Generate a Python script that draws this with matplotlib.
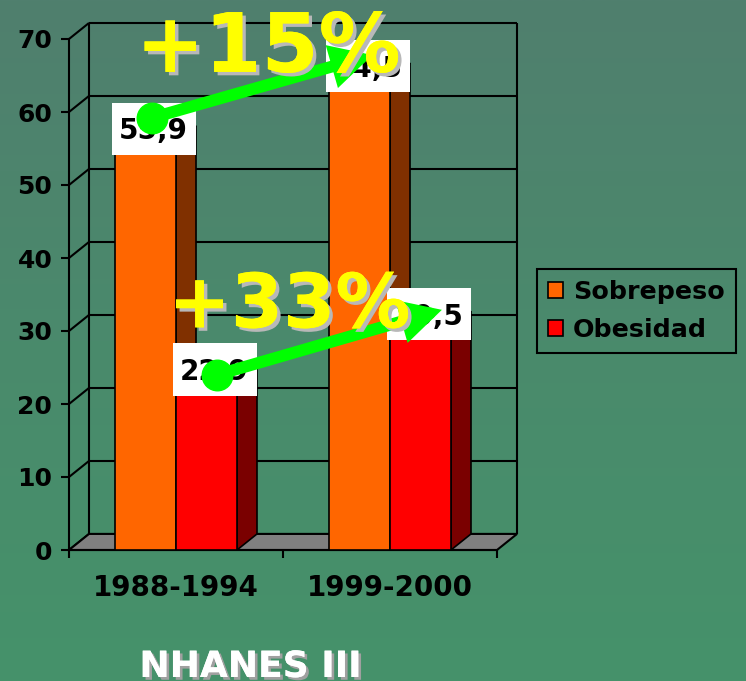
import matplotlib
matplotlib.use("Agg")
import matplotlib.pyplot as plt
import matplotlib.patheffects as pe
from matplotlib.colors import LinearSegmentedColormap
from matplotlib.patches import Rectangle, Polygon, Patch
import numpy as np

# data
periods = ["1988-1994", "1999-2000"]
series = ["Sobrepeso", "Obesidad"]
sobrepeso = [55.9, 64.5]
obesidad = [22.9, 30.5]
changes = ["+15%", "+33%"]
y_ticks = [0, 10, 20, 30, 40, 50, 60, 70]
source = "NHANES III"

# styles
front_colors = ["#ff6600", "#ff0000"]
side_colors = ["#803000", "#7a0000"]
top_colors = ["#ff9a55", "#ff6a6a"]
green = "#00ff00"
yellow = "#ffff00"
W, H = 746, 681
dx, dy = 0.0935, 2.2      # depth offset (x in category units, y in value units)
bw = 0.285                # bar width

plt.rcParams["font.family"] = ["DejaVu Sans"]
plt.rcParams["font.weight"] = "bold"

fig = plt.figure(figsize=(W / 100, H / 100), dpi=100)
bg = fig.add_axes([0, 0, 1, 1], zorder=-10)
cmap = LinearSegmentedColormap.from_list("bg", ["#45926a", "#4a8a6c", "#507f6e"])
bg.imshow(np.linspace(0, 1, 256).reshape(-1, 1), aspect="auto", cmap=cmap,
          origin="lower", extent=[0, 1, 0, 1])
bg.axis("off")

ax = fig.add_axes([69 / W, (H - 550) / H, 428 / W, 511 / H])
ax.patch.set_alpha(0)
ax.set_xlim(-0.5, 1.5)
ax.set_ylim(0, 70)
for s in ["top", "right"]:
    ax.spines[s].set_visible(False)
for s in ["left", "bottom"]:
    ax.spines[s].set_linewidth(1.5)
    ax.spines[s].set_zorder(3)

line = dict(color="black", lw=1.5, clip_on=False, zorder=1, solid_capstyle="butt")
x0, x1 = -0.5, 1.5
for v in y_ticks:
    ax.plot([x0 + dx, x1 + dx], [v + dy, v + dy], **line)
    ax.plot([x0, x0 + dx], [v, v + dy], **line)
ax.plot([x0 + dx, x0 + dx], [dy, y_ticks[-1] + dy], **line)
ax.plot([x1 + dx, x1 + dx], [dy, y_ticks[-1] + dy], **line)

ax.add_patch(Polygon([(x0, 0), (x1, 0), (x1 + dx, dy), (x0 + dx, dy)], closed=True,
                     fc="#808080", ec="black", lw=1.5, zorder=2, clip_on=False))

values = [sobrepeso, obesidad]
for i in range(len(periods)):
    for j, vals in enumerate(values):
        v = vals[i]
        left = i - bw + j * bw
        z = 3 + j
        ax.add_patch(Rectangle((left, 0), bw, v, fc=front_colors[j], ec="black", lw=1.2,
                               zorder=z + 0.2, clip_on=False))
        ax.add_patch(Polygon([(left + bw, 0), (left + bw + dx, dy), (left + bw + dx, v + dy),
                              (left + bw, v)], closed=True, fc=side_colors[j], ec="black",
                             lw=1.2, zorder=z, clip_on=False))
        ax.add_patch(Polygon([(left, v), (left + bw, v), (left + bw + dx, v + dy),
                              (left + dx, v + dy)], closed=True, fc=top_colors[j], ec="black",
                             lw=1.2, zorder=z, clip_on=False))
        # value label box
        ax.add_patch(Rectangle((left - 0.014, v - 1.8), 0.393, 7.2, fc="white", ec="none",
                               zorder=6, clip_on=False))
        ax.text(left + 0.18, v + 0.35, f"{v:.1f}".replace(".", ","), ha="center",
                va="baseline", fontsize=20, color="black", zorder=7)

# growth arrows
starts = [(0 - bw / 2 + 0.03, sobrepeso[0] + 3.3), (0 + bw / 2 + 0.05, obesidad[0] + 1.1)]
ends = [(1 - bw / 2 + 0.06, sobrepeso[1] + 3.3), (1 + bw / 2 + 0.10, obesidad[1] + 2.4)]
for (sx, sy), (ex, ey) in zip(starts, ends):
    ax.annotate("", xy=(ex, ey), xytext=(sx, sy), annotation_clip=False, zorder=8,
                arrowprops=dict(arrowstyle="-|>,head_length=0.85,head_width=0.45",
                                mutation_scale=20, color=green, lw=8.5,
                                shrinkA=0, shrinkB=0, joinstyle="miter"))
    ax.plot([sx], [sy], "o", ms=22, color=green, zorder=8, clip_on=False)

shadow = [pe.withSimplePatchShadow(offset=(2.5, -2.5), shadow_rgbFace="#b8b8b8", alpha=1.0),
          pe.Normal()]
ax.text(0.432, 65.5, changes[0], ha="center", va="baseline", fontsize=59, color=yellow,
        zorder=9, path_effects=shadow)
ax.text(0.53, 30.5, changes[1], ha="center", va="baseline", fontsize=54, color=yellow,
        zorder=9, path_effects=shadow)

# axes ticks
ax.set_yticks(y_ticks)
ax.tick_params(axis="y", length=6, width=1.5, pad=6, labelsize=18, labelcolor="black")
ax.set_xticks(range(len(periods)))
ax.set_xticklabels(periods)
ax.set_xticks([-0.5, 0.5, 1.5], minor=True)
ax.tick_params(axis="x", which="major", length=0, pad=17, labelsize=20)
ax.tick_params(axis="x", which="minor", length=6, width=1.5)

leg = fig.legend([Patch(fc=c, ec="black", lw=1.2) for c in front_colors], series,
                 loc="center left", bbox_to_anchor=(537 / W, 1 - 311 / H),
                 frameon=True, fancybox=False, edgecolor="black", facecolor="none",
                 framealpha=1, prop=dict(weight="bold", size=18.3), handlelength=0.6,
                 handleheight=0.6, handletextpad=0.4, borderpad=0.42, labelspacing=0.55,
                 borderaxespad=0)
leg.get_frame().set_linewidth(1.5)

fig.text(251 / W, 1 - 677 / H, source, ha="center", va="baseline", fontsize=26,
         color="white", path_effects=[pe.withSimplePatchShadow(offset=(2, -2),
                                      shadow_rgbFace="#a0a0a0", alpha=1.0), pe.Normal()])

fig.savefig("out.png", dpi=100)
